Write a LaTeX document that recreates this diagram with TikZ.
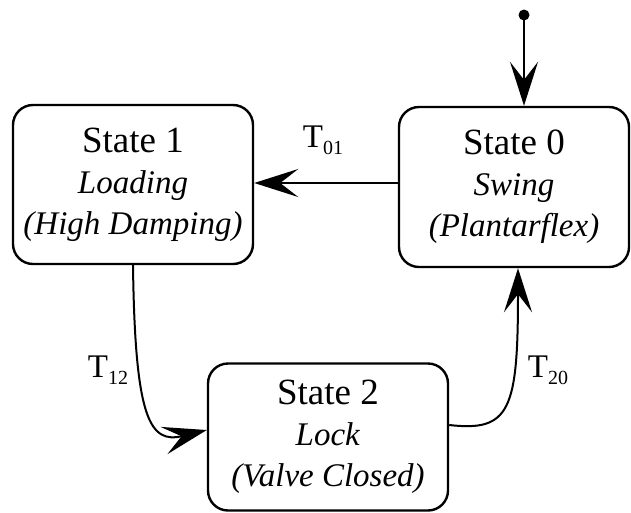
\documentclass[tikz,border=0pt]{standalone}
\usepackage{fontspec}
\setmainfont{Liberation Serif}
\usetikzlibrary{arrows.meta}
\begin{document}
\begin{tikzpicture}[x=1pt,y=-1pt,
  statebox/.style={draw,line width=2.4pt,rounded corners=20pt,align=center,
    inner sep=0pt,font=\fontsize{33}{41}\selectfont},
  conn/.style={line width=2pt,-{Stealth[length=44pt,width=28pt,inset=18pt]}},
  tlabel/.style={font=\fontsize{33}{33}\selectfont,inner sep=0pt}]
\useasboundingbox (0,0) rectangle (631,512);
\node[statebox,minimum width=230pt,minimum height=160pt] (n0) at (514,187)
  {{\fontsize{37}{41}\selectfont State 0}\\\textit{Swing}\\\textit{(Plantarflex)}};
\node[statebox,minimum width=240pt,minimum height=159pt] (n1) at (133,184.5)
  {{\fontsize{37}{41}\selectfont State 1}\\\textit{Loading}\\\textit{(High Damping)}};
\node[statebox,minimum width=240pt,minimum height=147pt] (n2) at (328,437)
  {{\fontsize{37}{41}\selectfont State 2}\\\textit{Lock}\\\textit{(Valve Closed)}};
\coordinate (start) at (524,15);
\fill (start) circle (5.5pt);
\draw[conn] (start) -- (n0.north -| start);
\draw[conn] (n0.west |- 0,183) -- (n1.east |- 0,183);
\draw[conn] (n1.south) .. controls (135,420) and (150,444) .. ([yshift=7pt]n2.west);
\draw[conn] ([yshift=12pt]n2.east) .. controls (510,432) and (518,410) .. ([xshift=4pt]n0.south);
\node[tlabel] (t01) at (323,140) {T\raisebox{-7pt}{\fontsize{20}{20}\selectfont 01}};
\node[tlabel] (t12) at (108,370) {T\raisebox{-7pt}{\fontsize{20}{20}\selectfont 12}};
\node[tlabel] (t20) at (548,370) {T\raisebox{-7pt}{\fontsize{20}{20}\selectfont 20}};
\end{tikzpicture}
\end{document}
